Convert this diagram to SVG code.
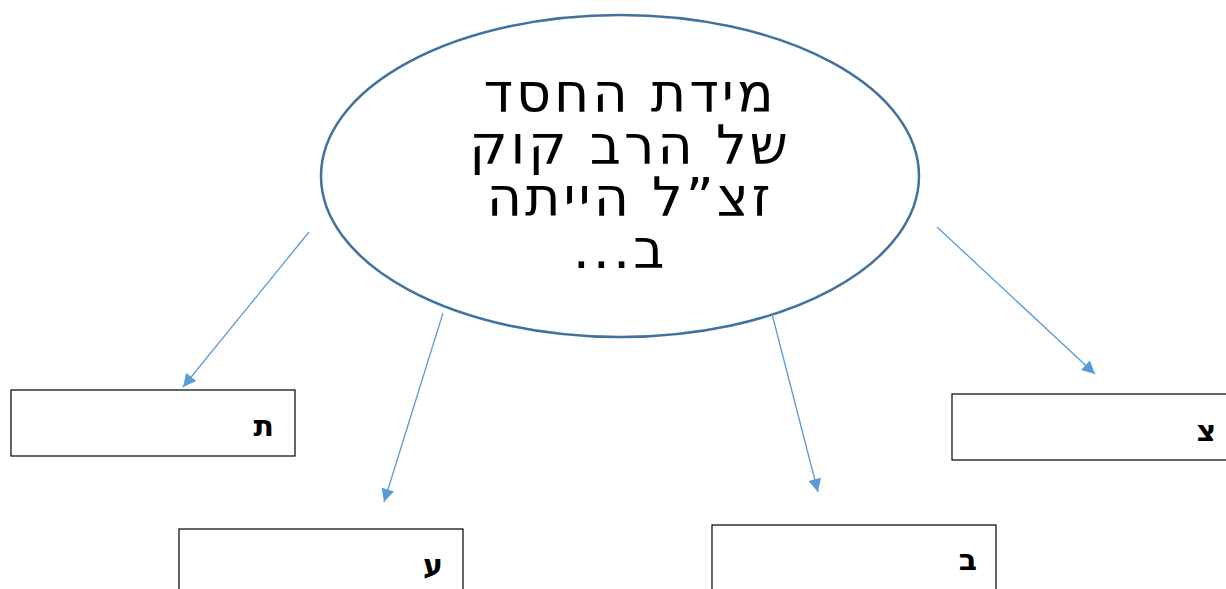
<svg xmlns="http://www.w3.org/2000/svg" width="1226" height="589" viewBox="0 0 1226 589">
<style>
.box{fill:#fff;stroke:#000;stroke-width:1.2}
.lbl{font-family:"DejaVu Sans",sans-serif;font-weight:bold;font-size:30px;fill:#000;text-anchor:end}
.main{font-family:"DejaVu Sans",sans-serif;font-size:54px;letter-spacing:3px;fill:#000;text-anchor:middle}
.conn{stroke:#5B9BD5;stroke-width:1.3;fill:none;marker-end:url(#ah)}
</style>
<defs>
<marker id="ah" viewBox="0 0 10 10" refX="10" refY="5" markerWidth="17" markerHeight="13" markerUnits="userSpaceOnUse" orient="auto">
<path d="M0,0 L10,5 L0,10 z" fill="#5B9BD5"/>
</marker>
</defs>
<rect width="1226" height="589" fill="#fff"/>
<g id="center">
<ellipse cx="620" cy="176" rx="299" ry="161" fill="#fff" stroke="#41719C" stroke-width="2.5"/>
<text class="main" direction="rtl">
<tspan x="620" y="112">מידת החסד</tspan>
<tspan x="620" y="164">של הרב קוק</tspan>
<tspan x="620" y="216">זצ”ל הייתה</tspan>
<tspan x="620" y="268">ב...</tspan>
</text>
</g>
<g id="connectors">
<line class="conn" x1="309" y1="232" x2="183" y2="387"/>
<line class="conn" x1="443" y1="313" x2="384" y2="502"/>
<line class="conn" x1="772" y1="314" x2="818" y2="492"/>
<line class="conn" x1="937" y1="227" x2="1095" y2="374"/>
</g>
<g id="node-tav">
<rect class="box" x="11" y="390" width="284" height="66"/>
<text class="lbl" x="274" y="436">ת</text>
</g>
<g id="node-ayin">
<rect class="box" x="179" y="529" width="284" height="66"/>
<text class="lbl" x="443" y="575">ע</text>
</g>
<g id="node-bet">
<rect class="box" x="712" y="525" width="284" height="66"/>
<text class="lbl" x="977" y="570">ב</text>
</g>
<g id="node-tsadi">
<rect class="box" x="952" y="394" width="284" height="66"/>
<text class="lbl" x="1216" y="441">צ</text>
</g>
</svg>
